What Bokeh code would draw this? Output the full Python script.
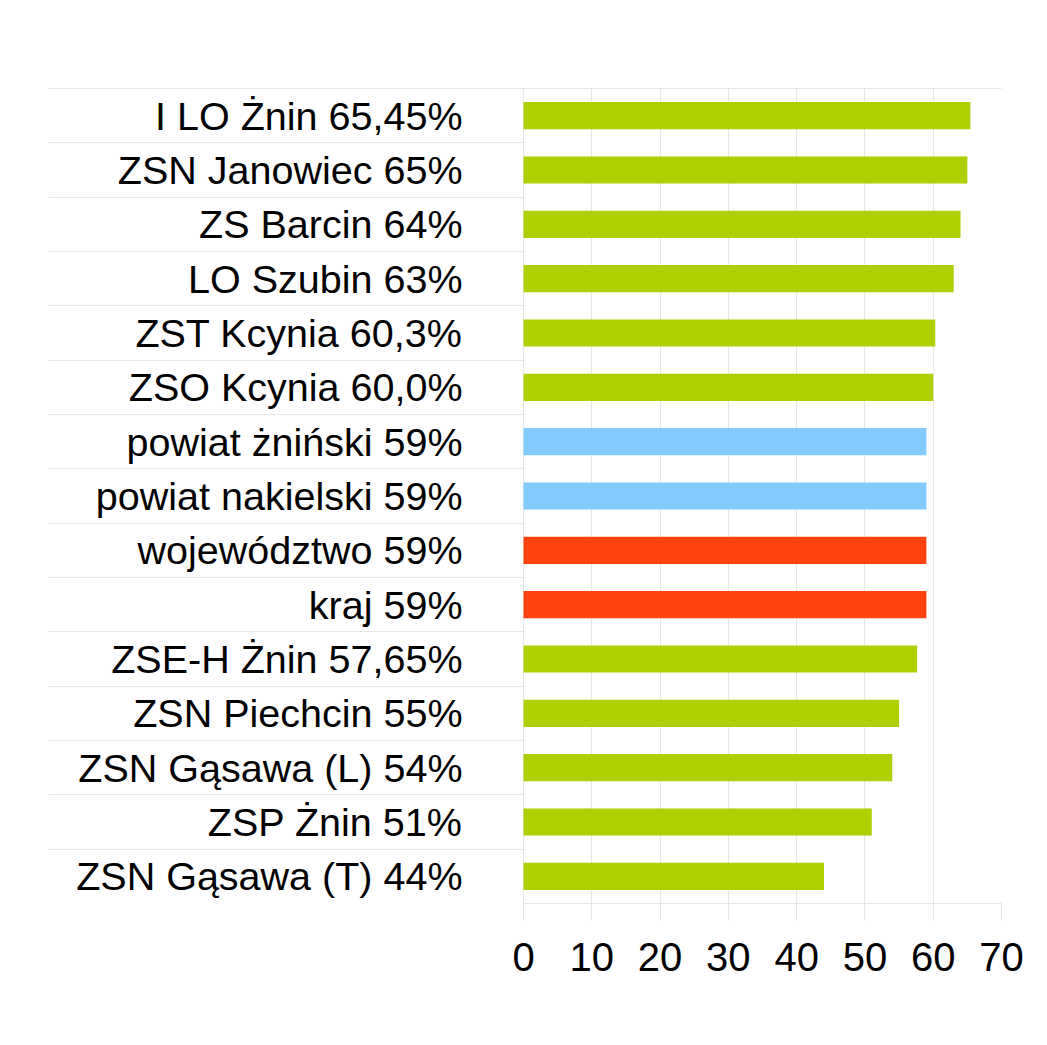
from bokeh.plotting import figure
from bokeh.models import Range1d, FixedTicker, LinearAxis
from bokeh.core.properties import value
from bokeh.embed import file_html
from bokeh.resources import INLINE

categories = ["I LO Żnin 65,45%", "ZSN Janowiec 65%", "ZS Barcin 64%", "LO Szubin 63%",
              "ZST Kcynia 60,3%", "ZSO Kcynia 60,0%", "powiat żniński 59%", "powiat nakielski 59%",
              "województwo 59%", "kraj 59%", "ZSE-H Żnin 57,65%", "ZSN Piechcin 55%",
              "ZSN Gąsawa (L) 54%", "ZSP Żnin 51%", "ZSN Gąsawa (T) 44%"]
values = [65.45, 65, 64, 63, 60.3, 60.0, 59, 59, 59, 59, 57.65, 55, 54, 51, 44]
groups = ["school"] * 6 + ["powiat"] * 2 + ["region"] * 2 + ["school"] * 5
x_ticks = [0, 10, 20, 30, 40, 50, 60, 70]

group_colors = {"school": "#aecf00", "powiat": "#83caff", "region": "#ff420e"}
n = len(categories)
centers = [n - i - 0.5 for i in range(n)]
colors = [group_colors[g] for g in groups]

GRID = "#e6e6e6"
FONT = "Liberation Sans"

# layout: plot area 0..70 spans 478 px; label area extends 475 px left of zero
XMAX = 70
PX_PER_UNIT = 478 / XMAX
XMIN = -475 / PX_PER_UNIT

p = figure(width=1031, height=1029, output_backend="svg", toolbar_location=None,
           x_range=Range1d(XMIN, XMAX), y_range=Range1d(0, n),
           min_border_left=48, min_border_right=30, min_border_top=88, min_border_bottom=126)

p.hbar(y=centers, right=values, left=0, height=0.5, fill_color=colors, line_color=None)

p.text(x=[0] * n, y=centers, text=categories, x_offset=-61, text_align="right",
       text_baseline="middle", text_font=value(FONT), text_font_size="39.5px", text_color="black")

p.outline_line_color = None
p.yaxis.visible = False
p.ygrid.grid_line_color = GRID
p.ygrid.ticker = FixedTicker(ticks=list(range(0, n + 1)))
p.ygrid.cross_bounds = (XMIN, 0)

p.xgrid.grid_line_color = GRID
p.xgrid.ticker = FixedTicker(ticks=x_ticks)

xa = p.below[0]
xa.ticker = FixedTicker(ticks=x_ticks)
xa.bounds = (0, XMAX)
xa.axis_line_color = GRID
xa.major_tick_line_color = GRID
xa.major_tick_out = 17
xa.major_tick_in = 0
xa.minor_tick_line_color = None
xa.major_label_standoff = 22
xa.major_label_text_font = FONT
xa.major_label_text_font_size = "40px"
xa.major_label_text_color = "black"

# top border line across labels and plot area
top_axis = LinearAxis(ticker=FixedTicker(ticks=[]), axis_line_color=GRID,
                      major_tick_line_color=None, minor_tick_line_color=None,
                      major_tick_out=0, major_tick_in=0)
p.add_layout(top_axis, "above")

open("out.html", "w").write(file_html(p, INLINE))
